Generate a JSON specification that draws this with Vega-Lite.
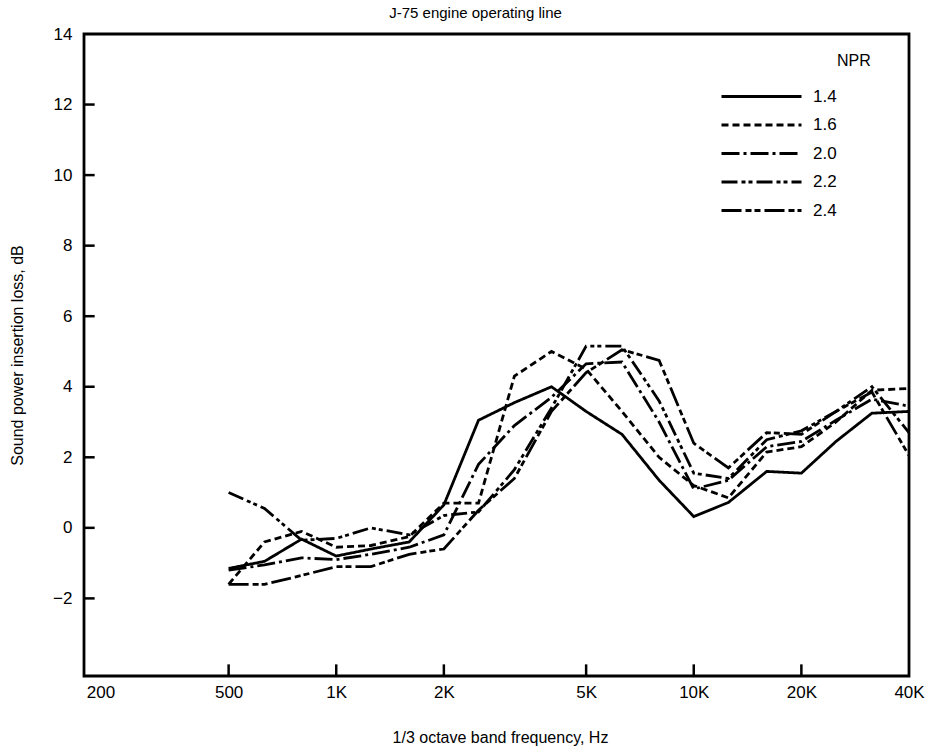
{
  "$schema": "https://vega.github.io/schema/vega-lite/v6.json",
  "autosize": {"type": "none"},
  "width": 825,
  "height": 642,
  "padding": {"left": 84, "top": 34, "right": 25, "bottom": 77},
  "background": "white",
  "title": {"text": "J-75 engine   operating line", "anchor": "middle", "frame": "group", "dx": -21, "offset": 4, "fontSize": 15, "font": "Liberation Sans", "fontWeight": "normal", "color": "black"},
  "config": {
    "view": {"stroke": "black", "strokeWidth": 2.8},
    "axis": {"labelFont": "Liberation Sans", "titleFont": "Liberation Sans", "labelColor": "black", "titleColor": "black", "grid": false, "domain": false, "ticks": false, "tickSize": 0}
  },
  "layer": [
    {
      "data": {"values": [
        {"f": 500, "v": -1.15, "npr": "1.4"}, {"f": 630, "v": -0.95, "npr": "1.4"}, {"f": 800, "v": -0.32, "npr": "1.4"}, {"f": 1000, "v": -0.8, "npr": "1.4"}, {"f": 1250, "v": -0.6, "npr": "1.4"}, {"f": 1600, "v": -0.4, "npr": "1.4"}, {"f": 2000, "v": 0.65, "npr": "1.4"}, {"f": 2500, "v": 3.05, "npr": "1.4"}, {"f": 3150, "v": 3.55, "npr": "1.4"}, {"f": 4000, "v": 4.0, "npr": "1.4"}, {"f": 5000, "v": 3.3, "npr": "1.4"}, {"f": 6300, "v": 2.65, "npr": "1.4"}, {"f": 8000, "v": 1.35, "npr": "1.4"}, {"f": 10000, "v": 0.32, "npr": "1.4"}, {"f": 12500, "v": 0.72, "npr": "1.4"}, {"f": 16000, "v": 1.6, "npr": "1.4"}, {"f": 20000, "v": 1.55, "npr": "1.4"}, {"f": 25000, "v": 2.45, "npr": "1.4"}, {"f": 31500, "v": 3.25, "npr": "1.4"}, {"f": 40000, "v": 3.3, "npr": "1.4"},
        {"f": 500, "v": -1.6, "npr": "1.6"}, {"f": 630, "v": -0.4, "npr": "1.6"}, {"f": 800, "v": -0.1, "npr": "1.6"}, {"f": 1000, "v": -0.55, "npr": "1.6"}, {"f": 1250, "v": -0.5, "npr": "1.6"}, {"f": 1600, "v": -0.25, "npr": "1.6"}, {"f": 2000, "v": 0.7, "npr": "1.6"}, {"f": 2500, "v": 0.7, "npr": "1.6"}, {"f": 3150, "v": 4.3, "npr": "1.6"}, {"f": 4000, "v": 5.0, "npr": "1.6"}, {"f": 5000, "v": 4.5, "npr": "1.6"}, {"f": 6300, "v": 3.3, "npr": "1.6"}, {"f": 8000, "v": 2.0, "npr": "1.6"}, {"f": 10000, "v": 1.2, "npr": "1.6"}, {"f": 12500, "v": 0.85, "npr": "1.6"}, {"f": 16000, "v": 2.15, "npr": "1.6"}, {"f": 20000, "v": 2.3, "npr": "1.6"}, {"f": 25000, "v": 3.0, "npr": "1.6"}, {"f": 31500, "v": 3.9, "npr": "1.6"}, {"f": 40000, "v": 3.95, "npr": "1.6"},
        {"f": 500, "v": -1.2, "npr": "2.0"}, {"f": 630, "v": -1.05, "npr": "2.0"}, {"f": 800, "v": -0.85, "npr": "2.0"}, {"f": 1000, "v": -0.9, "npr": "2.0"}, {"f": 1250, "v": -0.75, "npr": "2.0"}, {"f": 1600, "v": -0.55, "npr": "2.0"}, {"f": 2000, "v": -0.2, "npr": "2.0"}, {"f": 2500, "v": 1.8, "npr": "2.0"}, {"f": 3150, "v": 2.9, "npr": "2.0"}, {"f": 4000, "v": 3.7, "npr": "2.0"}, {"f": 5000, "v": 4.65, "npr": "2.0"}, {"f": 6300, "v": 4.7, "npr": "2.0"}, {"f": 8000, "v": 3.0, "npr": "2.0"}, {"f": 10000, "v": 1.1, "npr": "2.0"}, {"f": 12500, "v": 1.35, "npr": "2.0"}, {"f": 16000, "v": 2.3, "npr": "2.0"}, {"f": 20000, "v": 2.45, "npr": "2.0"}, {"f": 25000, "v": 3.05, "npr": "2.0"}, {"f": 31500, "v": 3.65, "npr": "2.0"}, {"f": 40000, "v": 3.45, "npr": "2.0"},
        {"f": 500, "v": 1.0, "npr": "2.2"}, {"f": 630, "v": 0.55, "npr": "2.2"}, {"f": 800, "v": -0.35, "npr": "2.2"}, {"f": 1000, "v": -0.3, "npr": "2.2"}, {"f": 1250, "v": 0.0, "npr": "2.2"}, {"f": 1600, "v": -0.2, "npr": "2.2"}, {"f": 2000, "v": 0.35, "npr": "2.2"}, {"f": 2500, "v": 0.45, "npr": "2.2"}, {"f": 3150, "v": 1.65, "npr": "2.2"}, {"f": 4000, "v": 3.4, "npr": "2.2"}, {"f": 5000, "v": 5.15, "npr": "2.2"}, {"f": 6300, "v": 5.15, "npr": "2.2"}, {"f": 8000, "v": 3.6, "npr": "2.2"}, {"f": 10000, "v": 1.55, "npr": "2.2"}, {"f": 12500, "v": 1.4, "npr": "2.2"}, {"f": 16000, "v": 2.5, "npr": "2.2"}, {"f": 20000, "v": 2.75, "npr": "2.2"}, {"f": 25000, "v": 3.3, "npr": "2.2"}, {"f": 31500, "v": 4.0, "npr": "2.2"}, {"f": 40000, "v": 2.7, "npr": "2.2"},
        {"f": 500, "v": -1.6, "npr": "2.4"}, {"f": 630, "v": -1.6, "npr": "2.4"}, {"f": 800, "v": -1.35, "npr": "2.4"}, {"f": 1000, "v": -1.1, "npr": "2.4"}, {"f": 1250, "v": -1.1, "npr": "2.4"}, {"f": 1600, "v": -0.75, "npr": "2.4"}, {"f": 2000, "v": -0.6, "npr": "2.4"}, {"f": 2500, "v": 0.5, "npr": "2.4"}, {"f": 3150, "v": 1.4, "npr": "2.4"}, {"f": 4000, "v": 3.3, "npr": "2.4"}, {"f": 5000, "v": 4.4, "npr": "2.4"}, {"f": 6300, "v": 5.05, "npr": "2.4"}, {"f": 8000, "v": 4.75, "npr": "2.4"}, {"f": 10000, "v": 2.4, "npr": "2.4"}, {"f": 12500, "v": 1.7, "npr": "2.4"}, {"f": 16000, "v": 2.7, "npr": "2.4"}, {"f": 20000, "v": 2.65, "npr": "2.4"}, {"f": 25000, "v": 3.3, "npr": "2.4"}, {"f": 31500, "v": 3.85, "npr": "2.4"}, {"f": 40000, "v": 2.05, "npr": "2.4"}
      ]},
      "mark": {"type": "line", "color": "black", "strokeWidth": 2.8, "clip": true},
      "encoding": {
        "x": {"field": "f", "type": "quantitative",
          "scale": {"type": "log", "domain": [197, 40000], "nice": false},
          "axis": {"values": [200, 500, 1000, 2000, 5000, 10000, 20000, 40000],
            "labelExpr": "datum.value >= 1000 ? (datum.value / 1000) + 'K' : datum.value",
            "labelFontSize": 17, "labelFlush": false, "labelPadding": 8,
            "labelAlign": {"condition": {"test": "datum.value < 300", "value": "left"}, "value": "center"},
            "title": "1/3 octave  band frequency, Hz", "titleFontSize": 16, "titleFontWeight": "normal",
            "titleX": 416, "titleY": 61, "titleBaseline": "middle"}},
        "y": {"field": "v", "type": "quantitative",
          "scale": {"domain": [-4.2, 14], "nice": false, "zero": false},
          "axis": {"values": [-2, 0, 2, 4, 6, 8, 10, 12, 14], "labelFontSize": 17, "labelPadding": 12,
            "title": "Sound power insertion loss, dB", "titleFontSize": 16, "titleFontWeight": "normal",
            "titleX": -67, "titleY": 321, "titleAngle": 270, "titleBaseline": "middle", "titleAlign": "center"}},
        "strokeDash": {"field": "npr", "type": "nominal",
          "scale": {"domain": ["1.4", "1.6", "2.0", "2.2", "2.4"], "range": [[1, 0], [7, 4], [18, 4, 3, 4], [16, 4, 4, 3, 4, 4], [20, 4, 6, 3, 6, 4]]},
          "legend": {"orient": "none", "legendX": 636, "legendY": 19, "padding": 0, "title": "NPR", "titleOrient": "top", "titleAnchor": "end", "titleAlign": "left", "titlePadding": 16,
            "titleFontSize": 16, "titleFont": "Liberation Sans", "titleFontWeight": "normal", "titleColor": "black",
            "labelFontSize": 17, "labelFont": "Liberation Sans", "labelColor": "black", "symbolSize": 400, "symbolStrokeWidth": 2.8, "symbolStrokeColor": "black", "symbolType": "M-1,0H7", "rowPadding": 8.5, "labelOffset": 70}}
      }
    },
    {
      "data": {"values": [{"t": 500}, {"t": 1000}, {"t": 2000}, {"t": 5000}, {"t": 10000}, {"t": 20000}]},
      "mark": {"type": "rule", "color": "black", "strokeWidth": 2.5},
      "encoding": {
        "x": {"field": "t", "type": "quantitative", "title": "1/3 octave  band frequency, Hz"},
        "y": {"datum": -4.2},
        "y2": {"datum": -3.87}
      }
    },
    {
      "data": {"values": [{"tv": -2}, {"tv": 0}, {"tv": 2}, {"tv": 4}, {"tv": 6}, {"tv": 8}, {"tv": 10}, {"tv": 12}]},
      "mark": {"type": "rule", "color": "black", "strokeWidth": 2.5},
      "encoding": {
        "y": {"field": "tv", "type": "quantitative", "title": "Sound power insertion loss, dB"},
        "x": {"datum": 197},
        "x2": {"datum": 211}
      }
    }
  ]
}
